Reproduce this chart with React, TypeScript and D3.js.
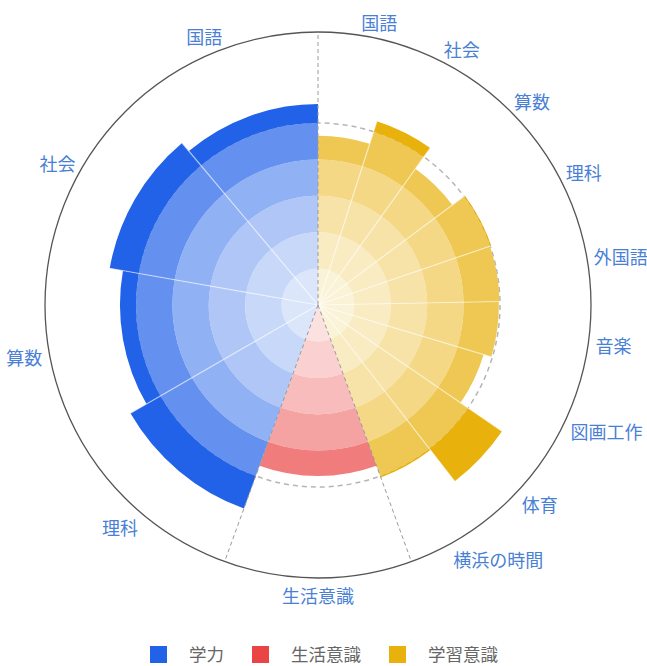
import React from 'react';
import * as d3 from 'd3';

const W = 647;
const H = 666;

// ---- data ----
const gakuryokuCategories = ['国語', '社会', '算数', '理科'];
const gakuryokuValues = [55.2, 58.1, 54.4, 59.5];
const seikatsuCategories = ['生活意識'];
const seikatsuValues = [47];
const gakushuCategories = ['国語', '社会', '算数', '理科', '外国語', '音楽', '図画工作', '体育', '横浜の時間'];
const gakushuValues = [46.5, 53, 46, 50.3, 49.9, 49.7, 47.5, 61.3, 50.4];
const legendLabels = ['学力', '生活意識', '学習意識'];
const bandBreaks = [0, 10, 20, 30, 40, 50];
const radialMax = 75;
const averageValue = 50;

// ---- style ----
const bandOpacity = [0.16, 0.25, 0.36, 0.5, 0.7, 1];
const BLUE = '#2162e8';
const RED = '#eb4444';
const YELLOW = '#e8b10b';
const LABEL_COLOR = '#4a7fd6';
const FONT = '"Noto Sans CJK JP", "Noto Sans", sans-serif';

const cx = 318;
const cy = 305;
const rScale = d3.scaleLinear().domain([0, radialMax]).range([0, 273]);

type Group = { name: string; cats: string[]; vals: number[]; color: string; range: [number, number] };

const groups: Group[] = [
  { name: legendLabels[2], cats: gakushuCategories, vals: gakushuValues, color: YELLOW, range: [0, 160] },
  { name: legendLabels[1], cats: seikatsuCategories, vals: seikatsuValues, color: RED, range: [160, 200] },
  { name: legendLabels[0], cats: gakuryokuCategories, vals: gakuryokuValues, color: BLUE, range: [360, 200] },
];

const toRad = (d: number) => (d * Math.PI) / 180;

function mix(color: string, op: number) {
  const c = d3.rgb(color);
  const f = (v: number) => Math.round(255 - (255 - v) * op);
  return d3.rgb(f(c.r), f(c.g), f(c.b)).formatHex();
}

export default function App() {
  const arc = d3.arc<any>();
  const bars: React.ReactNode[] = [];
  const seps: React.ReactNode[] = [];
  const labels: React.ReactNode[] = [];
  const dashedRadials: number[] = [0, 160, 200];

  groups.forEach((g, gi) => {
    const band = d3.scaleBand<string>().domain(g.cats).range(g.range).padding(0);
    const bw = band.bandwidth();
    g.cats.forEach((cat, i) => {
      const a0 = band(cat)!;
      const a1 = a0 + bw;
      const v = g.vals[i];
      bandBreaks.forEach((b, bi) => {
        const next = bi + 1 < bandBreaks.length ? bandBreaks[bi + 1] : radialMax;
        if (v <= b) return;
        const top = Math.min(v, next);
        const d = arc({
          innerRadius: rScale(b),
          outerRadius: rScale(top),
          startAngle: toRad(a0),
          endAngle: toRad(a1),
        });
        bars.push(<path key={`b${gi}-${i}-${bi}`} d={d!} fill={mix(g.color, bandOpacity[bi])} />);
      });
      // label
      const mid = toRad(a0 + bw / 2);
      const R = rScale(radialMax) + 7;
      const s = Math.sin(mid);
      const c = Math.cos(mid);
      const lx = cx + R * s;
      const ly = cy - R * c + 1.5 - 8 * c;
      const anchor = s > 0.01 ? 'start' : s < -0.01 ? 'end' : 'middle';
      labels.push(
        <text key={`l${gi}-${i}`} x={lx} y={ly} textAnchor={anchor} dominantBaseline="central"
          fontSize={18} fill={LABEL_COLOR} fontFamily={FONT}>{cat}</text>
      );
    });
    // internal separators
    for (let i = 1; i < g.cats.length; i++) {
      const lo = Math.min(band(g.cats[i])!, band(g.cats[i - 1])!);
      const ang = toRad(lo + bw);
      const len = rScale(Math.max(g.vals[i], g.vals[i - 1]));
      seps.push(
        <line key={`s${gi}-${i}`} x1={cx} y1={cy} x2={cx + len * Math.sin(ang)} y2={cy - len * Math.cos(ang)}
          stroke="#ffffff" strokeOpacity={0.55} strokeWidth={1.2} />
      );
    }
  });

  const Rmax = rScale(radialMax);

  // legend
  const legendColors = [BLUE, RED, YELLOW];
  const sq = 17;
  const gapText = 22;
  const gapItem = 28;
  const charW = 17.5;
  const widths = legendLabels.map((l) => sq + gapText + l.length * charW);
  const total = d3.sum(widths) + gapItem * (legendLabels.length - 1);
  let lxCursor = 324 - total / 2;
  const legendY = 653;
  const legendItems = legendLabels.map((l, i) => {
    const x0 = lxCursor;
    lxCursor += widths[i] + gapItem;
    return (
      <g key={`lg${i}`}>
        <rect x={x0} y={legendY + 1.5 - sq / 2} width={sq} height={sq} fill={legendColors[i]} />
        <text x={x0 + sq + gapText} y={legendY} dominantBaseline="central" fontSize={17.5}
          fill="#666" fontFamily={FONT}>{l}</text>
      </g>
    );
  });

  return (
    <svg width={W} height={H} style={{ position: 'absolute', left: 0, top: 0, background: '#fff' }}>
      <circle cx={cx} cy={cy} r={rScale(averageValue)} fill="none" stroke="#b5b5b5" strokeWidth={1.5} strokeDasharray="5 4" />
      <g transform={`translate(${cx},${cy})`}>{bars}</g>
      {seps}
      {dashedRadials.map((d, i) => (
        <line key={`dr${i}`} x1={cx} y1={cy} x2={cx + Rmax * Math.sin(toRad(d))} y2={cy - Rmax * Math.cos(toRad(d))}
          stroke="#9a9a9a" strokeWidth={1} strokeDasharray="4 3" />
      ))}
      <circle cx={cx} cy={cy} r={Rmax} fill="none" stroke="#555" strokeWidth={1.3} />
      {labels}
      {legendItems}
    </svg>
  );
}
